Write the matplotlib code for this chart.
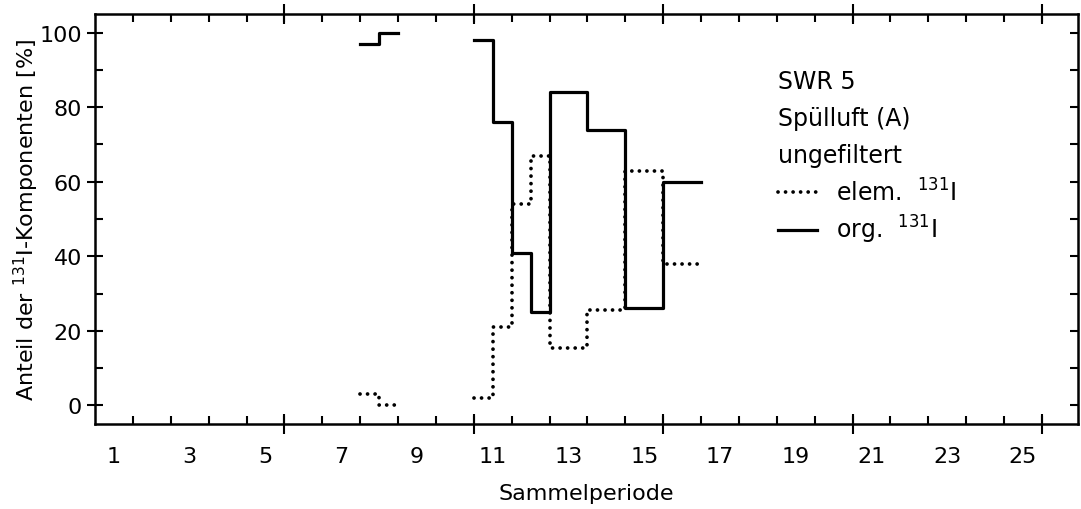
import numpy as np
import matplotlib
matplotlib.use("Agg")
import matplotlib.pyplot as plt

plt.rcParams['font.family'] = ['DejaVu Sans']

# Sammelperiode step edges (gap between 8.5 and 10.5 -> nan)
edges = [7.5, 8.0, 8.5, 10.5, 11.0, 11.5, 12.0, 12.5, 13.5, 14.5, 15.5, 16.5]
elem_131I = [3, 0, np.nan, 2, 21, 54, 67, 15.5, 25.5, 63, 38]
org_131I = [97, 100, np.nan, 98, 76, 41, 25, 84, 74, 26, 60]
period_labels = list(range(1, 26, 2))
y_ticks = [0, 20, 40, 60, 80, 100]
header_lines = ['SWR 5', 'Spülluft (A)', 'ungefiltert']


def step_xy(edges, values):
    # steps-post: repeat last value at the closing edge
    return list(edges), list(values) + [values[-1]]


fig = plt.figure(figsize=(10.81, 5.10), dpi=100)
ax = fig.add_axes([0.0879, 0.1667, 0.9093, 0.8039])

x, y = step_xy(edges, elem_131I)
ax.plot(x, y, drawstyle='steps-post', color='black', lw=2.7,
        linestyle=(0, (0.01, 2.0)), dash_capstyle='round',
        label='elem.  $^{131}$I')
x, y = step_xy(edges, org_131I)
ax.plot(x, y, drawstyle='steps-post', color='black', lw=2.3,
        label='org.  $^{131}$I')

ax.set_xlim(0.5, 26.45)
ax.set_ylim(-5, 105)

for s in ax.spines.values():
    s.set_linewidth(1.8)

# x ticks: small inward ticks at period boundaries, labels at odd periods
ax.set_xticks(np.arange(1.5, 26, 1))
ax.tick_params(axis='x', which='major', direction='in', length=6, width=1.5,
               top=True, labelbottom=False)
ax.set_xticks(period_labels, minor=True, labels=[str(p) for p in period_labels])
ax.tick_params(axis='x', which='minor', length=0, pad=16, labelsize=16)

for side in ('bottom', 'top'):
    sec = ax.secondary_xaxis(side)
    sec.set_xticks(np.arange(5.5, 26, 5))
    sec.tick_params(direction='inout', length=14, width=1.5,
                    labelbottom=False, labeltop=False)
    sec.spines[side].set_visible(False)

# y ticks
ax.set_yticks(y_ticks)
ax.set_yticks(np.arange(10, 100, 20), minor=True)
ax.tick_params(axis='y', which='major', direction='inout', length=11, width=1.5,
               pad=4, labelsize=16)
ax.tick_params(axis='y', which='minor', direction='in', length=6, width=1.5)
secy = ax.secondary_yaxis('right')
secy.set_yticks(np.arange(0, 101, 10))
secy.tick_params(direction='in', length=6, width=1.5, labelright=False)
secy.spines['right'].set_visible(False)

ax.set_xlabel('Sammelperiode', fontsize=16, labelpad=12)
ax.set_ylabel('Anteil der $^{131}$I-Komponenten [%]', fontsize=16)
ax.yaxis.set_label_coords(-0.055, 0.5)

# header of the key
for i, line in enumerate(header_lines):
    ax.text(0.6948, 0.8366 - i * 0.0902, line, transform=ax.transAxes,
            fontsize=17, ha='left', va='center')

ax.legend(loc='upper left', bbox_to_anchor=(0.6948, 0.600), frameon=False,
          fontsize=17, handlelength=1.65, handletextpad=0.8,
          labelspacing=0.33, borderpad=0, borderaxespad=0)

fig.savefig('out.png', dpi=100)
